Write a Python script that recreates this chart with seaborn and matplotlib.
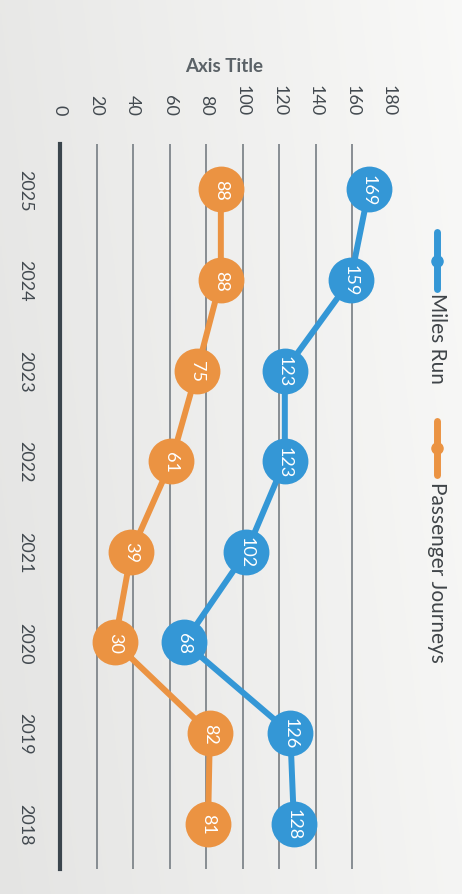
import numpy as np
import pandas as pd
import seaborn as sb
import matplotlib.pyplot as plt
from matplotlib.lines import Line2D

years = ["2025", "2024", "2023", "2022", "2021", "2020", "2019", "2018"]
miles_run = [169, 159, 123, 123, 102, 68, 126, 128]
passenger_journeys = [88, 88, 75, 61, 39, 30, 82, 81]
series_names = ["Miles Run", "Passenger Journeys"]
value_ticks = [0, 20, 40, 60, 80, 100, 120, 140, 160, 180]

blue = "#3497d6"
orange = "#eb9342"
text_grey = "#434a50"

sb.set_style("white")
plt.rcParams["font.family"] = ["Lato", "DejaVu Sans"]

df = pd.DataFrame({
    "pos": list(range(len(years))) * 2,
    "value": miles_run + passenger_journeys,
    "series": [series_names[0]] * len(years) + [series_names[1]] * len(years),
})

fig = plt.figure(figsize=(4.62, 8.95), dpi=100, facecolor="#ebebe9")

# subtle paper shading behind everything (photo of a print-out)
bg = fig.add_axes([0, 0, 1, 1], zorder=-10)
gx = np.linspace(0, 1, 200)
gy = np.linspace(0, 1, 200)
shade = 0.895 + 0.065 * gx[None, :] + 0.015 * gy[:, None]
bg.imshow(np.dstack([shade, shade, shade * 0.995]), extent=[0, 1, 0, 1],
          aspect="auto", origin="lower")
bg.axis("off")

ax = fig.add_axes([60 / 462, 1 - 870 / 895, 329 / 462, 725 / 895])
ax.set_facecolor("none")

sb.lineplot(data=df, x="value", y="pos", hue="series", orient="y",
            palette=[blue, orange], marker="o", markersize=33,
            markeredgewidth=0, linewidth=4.3, legend=False, ax=ax, zorder=3,
            clip_on=False)

# white value labels inside the circles
for vals in (miles_run, passenger_journeys):
    for i, v in enumerate(vals):
        ax.text(v, i, str(v), rotation=-90, ha="center", va="center",
                color="white", fontsize=13, zorder=5)

ax.set_xlim(0, 180)
ax.set_ylim(len(years) - 0.5, -0.5)
ax.set_xticks(value_ticks)
ax.set_yticks(range(len(years)))
ax.set_yticklabels(years)

ax.xaxis.tick_top()
ax.xaxis.set_label_position("top")
for lab in ax.get_xticklabels():
    lab.set_rotation(-90)
    lab.set_va("bottom")
    lab.set_ha("center")
for lab in ax.get_yticklabels():
    lab.set_rotation(-90)
    lab.set_va("center")
    lab.set_ha("right")
ax.tick_params(axis="x", length=0, pad=21, labelsize=13, labelcolor=text_grey)
ax.tick_params(axis="y", length=0, pad=19, labelsize=13, labelcolor=text_grey)

ax.set_ylabel("")
ax.set_xlabel("Axis Title", fontsize=13.5, fontweight="bold", color="#5b6267",
              labelpad=9)

ax.grid(axis="x", color="#767d83", linewidth=1.2)
ax.grid(axis="y", visible=False)
ax.get_xgridlines()[-1].set_visible(False)
for side in ["top", "right", "bottom"]:
    ax.spines[side].set_visible(False)
ax.spines["left"].set_color("#3b454d")
ax.spines["left"].set_linewidth(3)

# legend, drawn sideways like the rest of the page
legend_x = 437 / 462
legend_rows = [(233, 290, 293), (422, 476, 482)]
for (y0, y1, ty), name, col in zip(legend_rows, series_names, [blue, orange]):
    fig.add_artist(Line2D([legend_x, legend_x], [1 - y0 / 895, 1 - y1 / 895],
                          color=col, linewidth=5, solid_capstyle="round",
                          transform=fig.transFigure))
    fig.add_artist(Line2D([legend_x], [1 - (y0 + y1) / 2 / 895], marker="o",
                          markersize=8, color=col, transform=fig.transFigure))
    fig.text(legend_x, 1 - ty / 895, name, rotation=-90, ha="center", va="top",
             fontsize=15, color="#3f4448")

fig.savefig("out.png", dpi=100, facecolor=fig.get_facecolor())
